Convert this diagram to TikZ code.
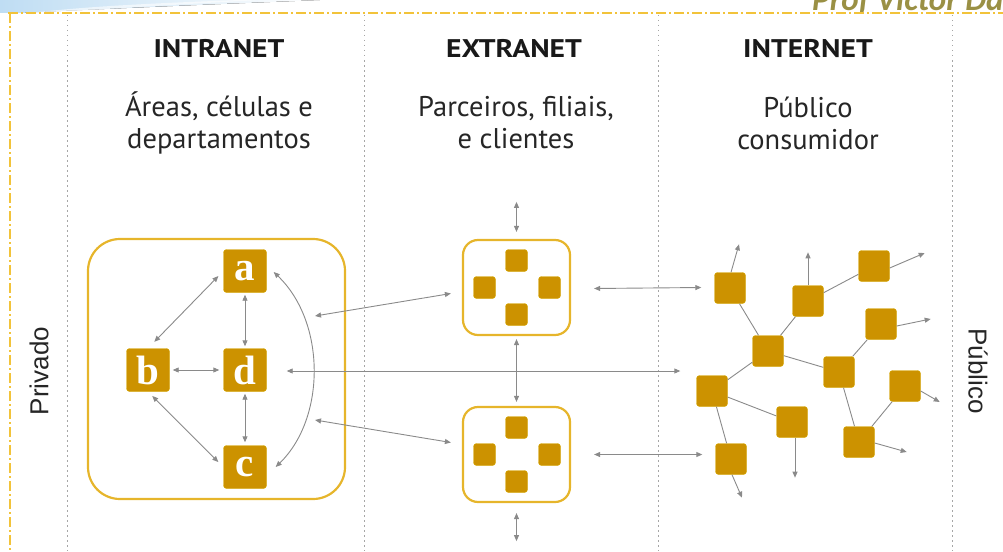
\documentclass[tikz,border=0pt]{standalone}
\usepackage{fontspec}
\setmainfont{PT Sans}
\newfontfamily\headfont[FakeStretch=1.16]{PT Sans}
\newfontfamily\letterfont{Liberation Serif}
\newfontfamily\sidefont{Liberation Sans}
\newfontfamily\authorfont{Carlito}
\usetikzlibrary{arrows.meta,calc,positioning}
\definecolor{gold}{HTML}{CC9200}
\definecolor{goldline}{HTML}{E6B52B}
\definecolor{frameyellow}{HTML}{F2C33A}
\definecolor{arrowgray}{HTML}{8A8A8A}
\definecolor{olive}{HTML}{9A9044}
\definecolor{skyblue}{HTML}{BFDDF3}
\tikzset{
  sq/.style={fill=gold, draw=gold!80!yellow, line width=0.4pt, rounded corners=3pt, minimum size=#1, inner sep=0pt},
  sq/.default=31pt,
  lettersq/.style={sq=43pt, text=white, font=\letterfont\bfseries\fontsize{41}{41}\selectfont},
  zonebox/.style={draw=goldline, line width=2.2pt, inner sep=0pt},
  dar/.style={draw=arrowgray, line width=0.9pt, {Triangle[length=6pt,width=5pt]}-{Triangle[length=6pt,width=5pt]}},
  sar/.style={draw=arrowgray, line width=0.9pt, -{Triangle[length=6pt,width=5pt]}},
  link/.style={draw=arrowgray, line width=0.9pt},
  divider/.style={draw=gray!70, line width=0.8pt, dash pattern=on 1.5pt off 3.5pt},
  frame/.style={draw=frameyellow, line width=2.2pt, dash pattern=on 10pt off 3pt on 2pt off 3pt},
  header/.style={font=\headfont\bfseries\fontsize{25.5}{25.5}\selectfont, text=black!90},
  sub/.style={font=\fontsize{28.5}{32}\selectfont, align=center, text=black!85},
  side/.style={font=\sidefont\fontsize{26}{26}\selectfont, text=black!85}
}
\begin{document}
\begin{tikzpicture}[x=1pt,y=-1pt]
\useasboundingbox (0,0) rectangle (1003,551);

% slide decoration: soft blue swoosh and the yellow frame
\fill[left color=skyblue, right color=white] (0,0) -- (320,0) .. controls (220,4) and (120,8) .. (20,13) -- (0,13) -- cycle;
\fill[white, opacity=0.6] (30,13) .. controls (90,6) and (160,3) .. (240,0) -- (260,0) .. controls (170,5) and (100,9) .. (50,13) -- cycle;
\begin{scope}
  \clip (0,0) rectangle (1003,551);
  \node[anchor=base west, text=olive, font=\authorfont\bfseries\itshape\fontsize{33}{33}\selectfont, inner sep=0pt] (author) at (812,11) {Prof Victor Dalton};
\end{scope}
\draw[frame] (8,13) -- (1003,13);
\draw[frame] (10,13) -- (10,551);

% column dividers
\foreach \x in {67,364,658,952} \draw[divider] (\x,15) -- (\x,551);

% column titles
\node[header] (h1) at (219,49) {INTRANET};
\node[header] (h2) at (514,49) {EXTRANET};
\node[header] (h3) at (808,49) {INTERNET};
\node[sub] (s1) at (219,123) {Áreas, células e\\departamentos};
\node[sub] (s2) at (516,123) {Parceiros, filiais,\\e clientes};
\node[sub] (s3) at (808,123) {Público\\consumidor};

\node[side, rotate=90] (priv) at (39,371) {Privado};
\node[side, rotate=-90] (publ) at (978,371) {Público};

% intranet
\node[zonebox, rounded corners=32pt, minimum width=257pt, minimum height=260pt] (intra) at (216.5,369) {};
\node[lettersq] (a) at (245,271) {a};
\node[lettersq] (b) at (148,370) {b};
\node[lettersq] (d) at (245,370) {d};
\node[lettersq] (c) at (245,467) {c};
\draw[dar, shorten <=2pt, shorten >=2pt] (a.south) -- (d.north);
\draw[dar, shorten <=2pt, shorten >=3pt] (d.south) -- (c.north);
\draw[dar, shorten <=3pt, shorten >=4pt] (b.east) -- (d.west);
\draw[dar, shorten <=7pt, shorten >=9pt] (a.west) -- (b.north);
\draw[dar, shorten <=6pt, shorten >=7pt] (b.south) -- (c.west);
\draw[dar] ([shift={(7,1)}]a.east) .. controls (326,322) and (326,418) .. ([shift={(9,0)}]c.east);

% extranet
\node[zonebox, rounded corners=15pt, minimum width=107pt, minimum height=95pt] (et) at (516.5,287.5) {};
\node[zonebox, rounded corners=15pt, minimum width=107pt, minimum height=95pt] (eb) at (516.5,454.5) {};
\foreach \bx in {et,eb} {
  \node[sq=22pt] (\bx-n) at ($(\bx.center)+(0,-27)$) {};
  \node[sq=22pt] (\bx-w) at ($(\bx.center)+(-32,0)$) {};
  \node[sq=22pt] (\bx-e) at ($(\bx.center)+(33,0)$) {};
  \node[sq=22pt] (\bx-s) at ($(\bx.center)+(0,27)$) {};
}
\draw[dar] ([shift={(0,-37)}]et.north) -- ([shift={(0,-7)}]et.north);
\draw[dar, shorten <=3pt, shorten >=4pt] (et.south) -- (eb.north);
\draw[dar] ([shift={(0,10)}]eb.south) -- ([shift={(0,38)}]eb.south);

\coordinate (inA) at (315,316);
\coordinate (inB) at (315,420);
\draw[dar] ([shift={(-11,6)}]et.west) -- (inA);
\draw[dar] ([shift={(-11,-12)}]eb.west) -- (inB);

% internet
\node[sq] (n1) at (730,288) {};
\node[sq] (n2) at (808,301) {};
\node[sq] (n3) at (874,266) {};
\node[sq] (n4) at (881,324) {};
\node[sq] (n5) at (768,351) {};
\node[sq] (n6) at (839,372) {};
\node[sq] (n7) at (905,386) {};
\node[sq] (n8) at (712,391) {};
\node[sq] (n9) at (792,422) {};
\node[sq] (n10) at (859,442) {};
\node[sq] (n11) at (731,459) {};

\draw[link] (n1) -- (n5);
\draw[link] (n5) -- (n2);
\draw[link] (n2) -- (n3);
\draw[link] (n5) -- (n6);
\draw[link] (n6) -- (n4);
\draw[link] (n5) -- (n8);
\draw[link] (n8) -- (n9);
\draw[link] (n8) -- (n11);
\draw[link] (n6) -- (n10);
\draw[link] (n10) -- (n7);

\draw[sar] (n1.north) ++(1,0) -- ++(8,-28);
\draw[sar] (n2.north) -- ++(0,-33);
\draw[sar] (n3.east) ++(0,2) -- ++(35,-15);
\draw[sar] (n4.east) ++(0,2) -- ++(34,-7);
\draw[sar] (n7.east) ++(0,5) -- ++(19,11);
\draw[sar] (n10.east) ++(0,1) -- ++(32,9);
\draw[sar] (n9.south) ++(3,0) -- ++(0,40);
\draw[sar] (n11.south) ++(1,0) -- ++(10,23);

% links between columns
\draw[dar] ([shift={(23,1)}]et.east) -- ([shift={(-13,0)}]et.east -| n1.west);
\draw[dar] ([shift={(23,0)}]eb.east) -- ([shift={(-13,0)}]eb.east -| n11.west);
\draw[dar] ([shift={(20,1)}]d.east) -- ([shift={(-16,1)}]d.east -| n8.west);
\end{tikzpicture}
\end{document}
